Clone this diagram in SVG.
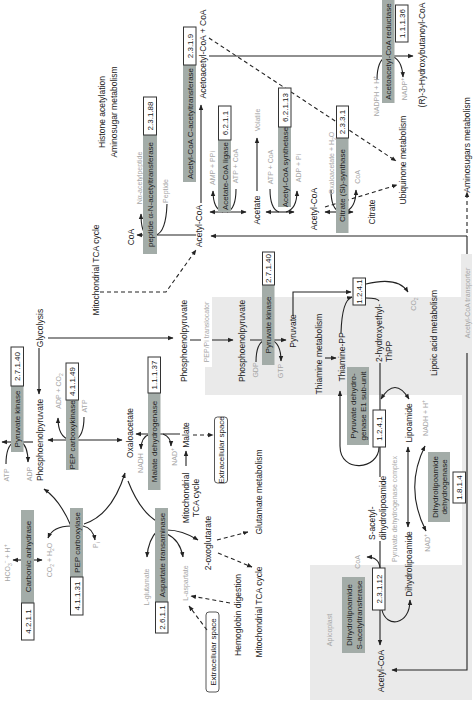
<svg xmlns="http://www.w3.org/2000/svg" width="474" height="703" viewBox="0 0 474 703">
<defs>
<marker id="a" viewBox="0 0 10 10" refX="9" refY="5" markerWidth="5" markerHeight="5" orient="auto-start-reverse"><path d="M0,1 L10,5 L0,9 z" fill="#222"/></marker>
<style>
text{font-family:"Liberation Sans",Arial,sans-serif;font-size:8.5px;fill:#222;text-anchor:middle}
.b{font-size:8px}
.l{font-size:7px;fill:#a6a6a6}
.s{text-anchor:start}
.e{fill:#a3aca8}
.w{fill:#fff;stroke:#333;stroke-width:1}
.c path{fill:none;stroke:#222;stroke-width:1.1}
.c .d{stroke-dasharray:4 3}
.m{marker-end:url(#a)}
.mm{marker-end:url(#a);marker-start:url(#a)}
.x{fill:none;stroke:#444;stroke-width:0.9}
</style>
</defs>
<rect width="474" height="703" fill="#fff"/>
<path d="M205,297 H472 V700 H310 V395 H205 Z" fill="#eaeaea"/>
<rect x="310" y="395" width="152" height="170" fill="#fff"/>

<g class="c">
<path class="m" d="M209,56 H413"/>
<path class="d m" d="M209,38 L396,161"/>
<path d="M377,80 Q377,60 387,56"/>
<path class="m" d="M390,56 Q402,58 403,77"/>
<path class="m" d="M201,203 V105"/>
<path class="m" d="M196,235 H137"/>
<path d="M167,204 Q166,232 156,235"/>
<path class="m" d="M147,235 Q141,232 141,214"/>
<path class="mm" d="M210,212 H246"/>
<path class="m" d="M223,212 Q213,209 213,191"/>
<path d="M236,189 Q236,209 227,212"/>
<path class="m" d="M257,191 V138"/>
<path class="mm" d="M266,212 H294"/>
<path d="M270,189 Q270,209 279,212"/>
<path class="m" d="M286,212 Q297,209 297,191"/>
<path class="mm" d="M325,212 H353"/>
<path d="M331,190 Q331,209 340,212"/>
<path class="m" d="M344,212 Q356,209 356,190"/>
<path class="d m" d="M325,207 L397,185"/>
<path class="m" d="M467,236 H211"/>
<path class="m" d="M467,236 V670 H392"/>
<path class="d m" d="M467,233 V192"/>
<path class="d m" d="M100,292 H166 L196,250"/>
<path class="m" d="M48,338 H173"/>
<path class="m" d="M39,348 V394"/>
<path class="m" d="M190,340 H233"/>
<path class="m" d="M250,340 H286"/>
<path d="M256,362 Q256,343 265,340"/>
<path class="m" d="M271,340 Q281,343 281,361"/>
<path class="m" d="M293,316 V292 H351"/>
<path class="m" d="M341,333 Q342,300 352,297"/>
<path class="m" d="M366,284 Q398,276 408,292"/>
<path d="M366,298 Q378,298 379,301"/>
<path class="m" d="M325,358 H336"/>
<path d="M380,363 V410 M380,447 V477"/>
<path class="m" d="M379,447 C379,470 340,474 340,446 V391"/>
<path class="mm" d="M381,399 Q395,376 409,399"/>
<path class="mm" d="M408,447 V527"/>
<path class="mm" d="M426,531 Q404,488 425,446"/>
<path d="M380,541 V568"/>
<path class="m" d="M380,568 Q379,557 367,557"/>
<path class="m" d="M380,610 V645"/>
<path class="m" d="M382,610 C386,628 410,626 410,600"/>
<path class="m" d="M33,442 H2"/>
<path d="M6,464 Q6,446 14,442"/>
<path class="m" d="M21,442 Q28,446 28,462"/>
<path class="mm" d="M48,440 H122"/>
<path class="m" d="M70,440 Q58,437 58,418"/>
<path d="M84,417 Q84,436 75,440"/>
<path class="m" d="M180,434 H136"/>
<path class="m" d="M163,434 Q171,437 171,446"/>
<path class="m" d="M150,434 Q141,437 141,449"/>
<path class="m" d="M186,466 V451"/>
<path class="d m" d="M193,435 H213"/>
<path class="mm" d="M13,560 H42"/>
<path class="m" d="M71,526 Q60,500 44,489"/>
<path class="m" d="M71,526 Q53,526 48,538"/>
<path class="m" d="M84,524 Q112,515 125,473"/>
<path class="m" d="M83,526 Q93,528 95,540"/>
<path d="M128,481 Q140,512 158,522"/>
<path class="m" d="M158,530 Q148,540 147,557"/>
<path class="m" d="M167,530 Q182,530 198,540"/>
<path class="m" d="M167,534 Q180,540 183,557"/>
<path class="d m" d="M217,540 L248,532"/>
<path class="d m" d="M218,553 L252,567"/>
<path class="d m" d="M230,603 L191,596"/>
<path class="d m" d="M207,630 L189,606"/>
</g>

<g id="n-peptide-acetyltransferase"><rect class="e" x="143" y="135" width="14" height="119"/><text class="b" transform="translate(153,194.5) rotate(-90)">peptide α-N-acetyltransferase</text><rect class="w" x="143.5" y="97" width="13" height="38"/><text class="b" transform="translate(153,116) rotate(-90)">2.3.1.88</text></g>
<g id="n-acat"><rect class="e" x="183" y="65" width="13" height="117"/><text class="b" transform="translate(192.5,123.5) rotate(-90)">Acetyl-CoA C-acetyltransferase</text><rect class="w" x="183.5" y="27" width="12.5" height="38"/><text class="b" transform="translate(192.5,46) rotate(-90)">2.3.1.9</text></g>
<g id="n-acs-ligase"><rect class="e" x="218" y="140" width="13" height="72"/><text class="b" transform="translate(227.5,176) rotate(-90)">Acetate-CoA ligase</text><rect class="w" x="218.5" y="106" width="12.5" height="34"/><text class="b" transform="translate(227.5,123) rotate(-90)">6.2.1.1</text></g>
<g id="n-acs-synthetase"><rect class="e" x="278" y="127" width="13" height="80"/><text class="b" transform="translate(287.5,167) rotate(-90)">Acetyl-CoA synthetase</text><rect class="w" x="278.5" y="88" width="12.5" height="39"/><text class="b" transform="translate(287.5,107.5) rotate(-90)">6.2.1.13</text></g>
<g id="n-citrate-synthase"><rect class="e" x="336" y="138" width="12.5" height="95"/><text class="b" transform="translate(345,185.5) rotate(-90)">Citrate (Si)-synthase</text><rect class="w" x="336.5" y="106" width="12" height="32"/><text class="b" transform="translate(345,122) rotate(-90)">2.3.3.1</text></g>
<g id="n-aar"><rect class="e" x="382" y="0" width="12.5" height="103"/><text class="b" transform="translate(391,51.5) rotate(-90)">Acetoacetyl-CoA reductase</text><rect class="w" x="395.5" y="5" width="12.5" height="37"/><text class="b" transform="translate(404.5,23.5) rotate(-90)">1.1.1.36</text></g>
<g id="n-pk-api"><rect class="e" x="262" y="285" width="12.5" height="80"/><text class="b" transform="translate(271,325) rotate(-90)">Pyruvate kinase</text><rect class="w" x="262.5" y="252" width="12" height="33"/><text class="b" transform="translate(271,268.5) rotate(-90)">2.7.1.40</text></g>
<g id="n-e1-top"><rect class="w" x="353" y="278" width="12.5" height="27"/><text class="b" transform="translate(362,291.5) rotate(-90)">1.2.4.1</text></g>
<g id="n-e1"><rect class="e" x="347" y="367" width="22" height="78"/><text class="b" transform="translate(356,406) rotate(-90)">Pyruvate dehydro-</text><text class="b" transform="translate(366,406) rotate(-90)">genase E1 sub-unit</text><rect class="w" x="373" y="410" width="12.5" height="37"/><text class="b" transform="translate(382,428.5) rotate(-90)">1.2.4.1</text></g>
<g id="n-dld"><rect class="e" x="428" y="452" width="22" height="70"/><text class="b" transform="translate(437.5,487) rotate(-90)">Dihydrolipoamide</text><text class="b" transform="translate(447,487) rotate(-90)">dehydrogenase</text><rect class="w" x="453" y="472" width="12.5" height="31"/><text class="b" transform="translate(462,487.5) rotate(-90)">1.8.1.4</text></g>
<g id="n-dlat"><rect class="e" x="342" y="577" width="23" height="76"/><text class="b" transform="translate(351.5,615) rotate(-90)">Dihydrolipoamide</text><text class="b" transform="translate(361.5,615) rotate(-90)">S-acetyltransferase</text><rect class="w" x="372.5" y="568" width="12.5" height="42"/><text class="b" transform="translate(382,589) rotate(-90)">2.3.1.12</text></g>
<g id="n-pk-cyt"><rect class="e" x="11" y="386" width="12.5" height="66"/><text class="b" transform="translate(20,419) rotate(-90)">Pyruvate kinase</text><rect class="w" x="11" y="347" width="12.5" height="39"/><text class="b" transform="translate(20,366.5) rotate(-90)">2.7.1.40</text></g>
<g id="n-pepck"><rect class="e" x="66" y="400" width="12.5" height="70"/><text class="b" transform="translate(75,435) rotate(-90)">PEP carboxykinase</text><rect class="w" x="66" y="363" width="12.5" height="37"/><text class="b" transform="translate(75,381.5) rotate(-90)">4.1.1.49</text></g>
<g id="n-mdh"><rect class="e" x="148" y="393" width="12.5" height="97"/><text class="b" transform="translate(157,441.5) rotate(-90)">Malate dehydrogenase</text><rect class="w" x="148" y="357" width="12.5" height="36"/><text class="b" transform="translate(157,375) rotate(-90)">1.1.1.37</text></g>
<g id="n-ca"><rect class="e" x="21" y="510" width="13" height="93"/><text class="b" transform="translate(30.5,556.5) rotate(-90)">Carbonic anhydrase</text><rect class="w" x="21.5" y="603" width="12.5" height="37"/><text class="b" transform="translate(30.5,621.5) rotate(-90)">4.2.1.1</text></g>
<g id="n-pepc"><rect class="e" x="70" y="508" width="13" height="69"/><text class="b" transform="translate(79.5,542.5) rotate(-90)">PEP carboxylase</text><rect class="w" x="70.5" y="577" width="12.5" height="38"/><text class="b" transform="translate(79.5,596) rotate(-90)">4.1.1.31</text></g>
<g id="n-ast"><rect class="e" x="155" y="508" width="13" height="94"/><text class="b" transform="translate(164.5,555) rotate(-90)">Aspartate transaminase</text><rect class="w" x="155.5" y="602" width="12.5" height="31"/><text class="b" transform="translate(164.5,617.5) rotate(-90)">2.6.1.1</text></g>
<g id="n-ext1"><rect class="x" x="214.5" y="417" width="13" height="66" rx="3"/><text class="b" transform="translate(224,450) rotate(-90)">Extracellular space</text></g>
<g id="n-ext2"><rect class="x" x="206" y="612" width="13" height="80" rx="3"/><text class="b" transform="translate(215.5,652) rotate(-90)">Extracellular space</text></g>
<g id="labels-bg"><rect x="201" y="296" width="11" height="71" fill="#fff"/><rect x="461" y="254" width="11" height="99" fill="#eaeaea"/></g>

<g id="metabolites">
<text transform="translate(105,112) rotate(-90)">Histone acetylation</text>
<text transform="translate(117,112) rotate(-90)">Aminosugar metabolism</text>
<text class="l" transform="translate(142,178) rotate(-90)">Nα-acetylpeptide</text>
<text class="l" transform="translate(168,191) rotate(-90)">Peptide</text>
<text transform="translate(134,237) rotate(-90)">CoA</text>
<text transform="translate(206,54) rotate(-90)">Acetoacetyl-CoA + CoA</text>
<text class="l" transform="translate(215,168) rotate(-90)">AMP + PPi</text>
<text class="l" transform="translate(238,166) rotate(-90)">ATP + CoA</text>
<text class="l" transform="translate(260,120) rotate(-90)">Volatile</text>
<text transform="translate(260,210) rotate(-90)">Acetate</text>
<text class="l" transform="translate(273,167) rotate(-90)">ATP + CoA</text>
<text class="l" transform="translate(301,168) rotate(-90)">ADP + Pi</text>
<text transform="translate(202,226) rotate(-90)">Acetyl-CoA</text>
<text transform="translate(317,209) rotate(-90)">Acetyl-CoA</text>
<text class="l" transform="translate(334,163) rotate(-90)">Oxaloacetate + H<tspan font-size="5" dy="1.5">2</tspan><tspan dy="-1.5">O</tspan></text>
<text class="l" transform="translate(360,177) rotate(-90)">CoA</text>
<text transform="translate(375,212) rotate(-90)">Citrate</text>
<text class="l" transform="translate(379,96) rotate(-90)">NADPH + H<tspan font-size="5" dy="-3">+</tspan></text>
<text class="l" transform="translate(407,89) rotate(-90)">NADP<tspan font-size="5" dy="-3">+</tspan></text>
<text transform="translate(406,160) rotate(-90)">Ubiquinone metabolism</text>
<text transform="translate(425,55) rotate(-90)">(R)-3-Hydroxybutanoyl-CoA</text>
<text transform="translate(470,145) rotate(-90)">Aminosugars metabolism</text>
<text transform="translate(99,270) rotate(-90)">Mitochondrial TCA cycle</text>
<text transform="translate(43,328) rotate(-90)">Glycolysis</text>
<text transform="translate(187,341) rotate(-90)">Phosphoenolpyruvate</text>
<text class="l" transform="translate(209,332) rotate(-90)">PEP/Pi translocator</text>
<text transform="translate(245,341) rotate(-90)">Phosphoenolpyruvate</text>
<text class="l" transform="translate(258,370) rotate(-90)">GDP</text>
<text class="l" transform="translate(283,371) rotate(-90)">GTP</text>
<text transform="translate(296,331) rotate(-90)">Pyruvate</text>
<text transform="translate(322,354) rotate(-90)">Thiamine metabolism</text>
<text transform="translate(345,357) rotate(-90)">Thiamine-PP</text>
<text class="l" transform="translate(416,304) rotate(-90)">CO<tspan font-size="5" dy="1.5">2</tspan></text>
<text class="s" transform="translate(382,362) rotate(-90)">2-hydroxyethyl-</text>
<text class="s" transform="translate(392,362) rotate(-90)">ThPP</text>
<text transform="translate(437,333) rotate(-90)">Lipoic acid metabolism</text>
<text class="l" transform="translate(470,303) rotate(-90)">Acetyl-CoA transporter</text>
<text class="l" transform="translate(9,475) rotate(-90)">ATP</text>
<text class="l" transform="translate(32,474) rotate(-90)">ADP</text>
<text transform="translate(43,440) rotate(-90)">Phosphoenolpyruvate</text>
<text class="l" transform="translate(61,391) rotate(-90)">ADP + CO<tspan font-size="5" dy="1.5">2</tspan></text>
<text class="l" transform="translate(87,406) rotate(-90)">ATP</text>
<text transform="translate(133,433) rotate(-90)">Oxaloacetate</text>
<text class="l" transform="translate(143,463) rotate(-90)">NADH</text>
<text class="l" transform="translate(177,457) rotate(-90)">NAD<tspan font-size="5" dy="-3">+</tspan></text>
<text transform="translate(189,435) rotate(-90)">Malate</text>
<text transform="translate(189,498) rotate(-90)">Mitochondrial</text>
<text transform="translate(199,498) rotate(-90)">TCA cycle</text>
<text transform="translate(262,492) rotate(-90)">Glutamate metabolism</text>
<text class="l" transform="translate(10,563) rotate(-90)">HCO<tspan font-size="5" dy="1.5">3</tspan><tspan font-size="5" dy="-4.5">−</tspan><tspan dy="3"> + H</tspan><tspan font-size="5" dy="-3">+</tspan></text>
<text class="l" transform="translate(52,560) rotate(-90)">CO<tspan font-size="5" dy="1.5">2</tspan><tspan dy="-1.5"> + H</tspan><tspan font-size="5" dy="1.5">2</tspan><tspan dy="-1.5">O</tspan></text>
<text class="l" transform="translate(98,545) rotate(-90)">P<tspan font-size="5" dy="1.5">i</tspan></text>
<text class="l" transform="translate(149,587) rotate(-90)">L-glutamate</text>
<text class="l" transform="translate(188,583) rotate(-90)">L-aspartate</text>
<text transform="translate(211,543) rotate(-90)">2-oxoglutarate</text>
<text transform="translate(241,615) rotate(-90)">Hemoglobin digestion</text>
<text transform="translate(262,612) rotate(-90)">Mitochondrial TCA cycle</text>
<text transform="translate(412,423) rotate(-90)">Lipoamide</text>
<text class="l" transform="translate(428,418) rotate(-90)">NADH + H<tspan font-size="5" dy="-3">+</tspan></text>
<text class="s" transform="translate(375,540) rotate(-90)">S-acetyl-</text>
<text class="s" transform="translate(386,540) rotate(-90)">dihydrolipoamide</text>
<text class="l" transform="translate(397,509) rotate(-90)">Pyruvate dehydrogenase complex</text>
<text class="l" transform="translate(430,543) rotate(-90)">NAD<tspan font-size="5" dy="-3">+</tspan></text>
<text class="l" transform="translate(360,562) rotate(-90)">CoA</text>
<text transform="translate(412,564) rotate(-90)">Dihydrolipoamide</text>
<text class="l" transform="translate(332,630) rotate(-90)">Apicoplast</text>
<text transform="translate(384,671) rotate(-90)">Acetyl-CoA</text>
</g>
</svg>
